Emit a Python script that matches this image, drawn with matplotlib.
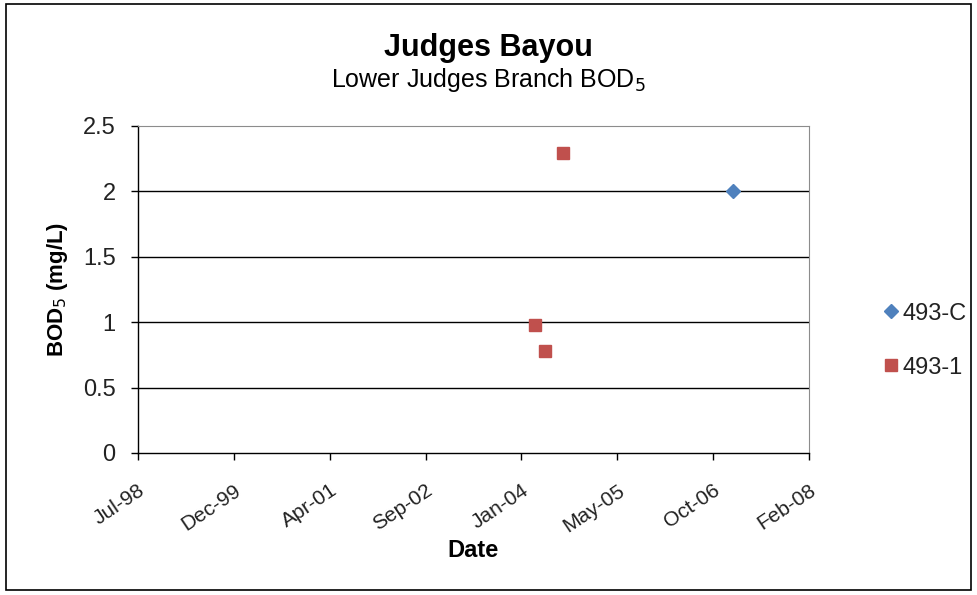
import datetime
import matplotlib
matplotlib.use("Agg")
import matplotlib.pyplot as plt
import matplotlib.dates as mdates
from matplotlib.patches import Rectangle

plt.rcParams['font.family'] = ['Liberation Sans', 'DejaVu Sans']

# sampling dates and BOD5 values per station
dates_493c = [datetime.date(2007, 1, 25)]
bod_493c = [2.0]

dates_4931 = [datetime.date(2004, 3, 25), datetime.date(2004, 5, 16), datetime.date(2004, 8, 18)]
bod_4931 = [0.98, 0.78, 2.29]

x_start = datetime.date(1998, 7, 25)
x_end = datetime.date(2008, 2, 22)
y_ticks = [0, 0.5, 1, 1.5, 2, 2.5]

blue = '#4F81BD'
red = '#C0504D'

fig = plt.figure(figsize=(9.77, 5.95), dpi=100, facecolor='white')

# outer chart border
fig.patches.append(Rectangle((0.006, 0.008), 0.988, 0.985, transform=fig.transFigure,
                             fill=False, edgecolor='black', linewidth=1.2))

ax = fig.add_axes([0.1412, 0.2387, 0.6868, 0.5496])

ax.plot(dates_493c, bod_493c, linestyle='none', marker='D', markersize=7.5,
        color=blue, label='493-C')
ax.plot(dates_4931, bod_4931, linestyle='none', marker='s', markersize=8.5,
        color=red, label='493-1')

ax.set_xlim(x_start, x_end)
ax.set_ylim(0, 2.5)
ticks = [x_start + datetime.timedelta(days=500 * i) for i in range(8)]
ax.set_xticks(ticks)
ax.xaxis.set_major_formatter(mdates.DateFormatter('%b-%y'))
ax.set_yticks(y_ticks)
ax.set_yticklabels([f"{v:g}" for v in y_ticks])

for v in y_ticks[1:-1]:
    ax.axhline(v, color='black', linewidth=1.0, zorder=1)

for side in ['top', 'right']:
    ax.spines[side].set_color('#8c8c8c')
    ax.spines[side].set_linewidth(0.8)
for side in ['left', 'bottom']:
    ax.spines[side].set_color('black')
    ax.spines[side].set_linewidth(1.0)

ax.tick_params(axis='y', labelsize=17, length=5, width=1, direction='out', pad=11,
               labelcolor='#222222')
ax.tick_params(axis='x', labelsize=15, length=5, width=1, direction='out', pad=15,
               labelcolor='#222222')
for lbl in ax.get_xticklabels():
    lbl.set_rotation(34)
    lbl.set_ha('right')
    lbl.set_rotation_mode('anchor')

ax.set_xlabel('Date', fontsize=17, fontweight='bold')
ax.xaxis.set_label_coords(0.5, -0.263)
ax.set_ylabel('BOD$_5$ (mg/L)', fontsize=16, fontweight='bold')
ax.yaxis.set_label_coords(-0.101, 0.5)

fig.text(0.5, 0.92, 'Judges Bayou', ha='center', va='center', fontsize=22, fontweight='bold')
fig.text(0.5, 0.865, 'Lower Judges Branch BOD$_5$', ha='center', va='center', fontsize=18)

leg = ax.legend(loc='upper left', bbox_to_anchor=(0.8925, 0.511),
                bbox_transform=fig.transFigure, frameon=False, borderpad=0,
                fontsize=17, handletextpad=0.2, labelspacing=1.35, handlelength=0.6)
for t in leg.get_texts():
    t.set_color('#222222')

fig.savefig('out.png', dpi=100, facecolor='white')
